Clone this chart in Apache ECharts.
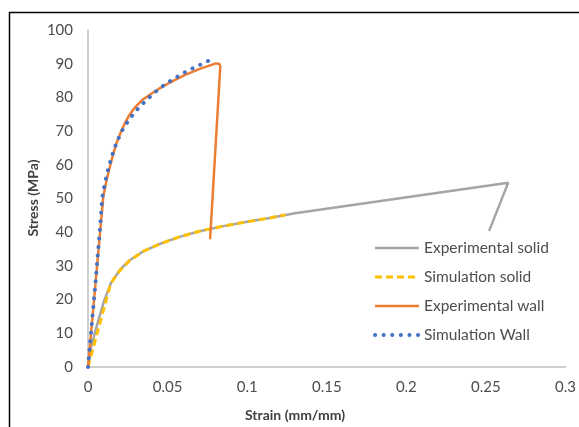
<!DOCTYPE html>
<html><head><meta charset="utf-8">
<script src="https://cdn.jsdelivr.net/npm/echarts@6/dist/echarts.min.js"></script>
<style>html,body{margin:0;padding:0;background:#fff}#c{width:579px;height:427px}</style>
</head><body><div id="c"></div>
<script>
var seriesNames = ['Experimental solid', 'Simulation solid', 'Experimental wall', 'Simulation Wall'];
var xTicks = [0, 0.05, 0.1, 0.15, 0.2, 0.25, 0.3];
var yTicks = [0, 10, 20, 30, 40, 50, 60, 70, 80, 90, 100];

var expSolidStrain = [0, 0.002, 0.006, 0.010, 0.0145, 0.020, 0.026, 0.035, 0.045, 0.0575, 0.070, 0.085, 0.100, 0.115, 0.130, 0.264, 0.252];
var expSolidStress = [0, 6, 13, 19.5, 25, 28.8, 31.6, 34.4, 36.5, 38.6, 40.3, 41.8, 43.1, 44.3, 45.6, 54.7, 40.4];

var simSolidStrain = [0, 0.0137, 0.016, 0.020, 0.026, 0.035, 0.045, 0.0575, 0.070, 0.085, 0.100, 0.115, 0.124];
var simSolidStress = [0, 23.8, 26, 28.6, 31.5, 34.4, 36.5, 38.6, 40.3, 41.8, 43.1, 44.3, 45.2];

var expWallStrain = [0, 0.0096, 0.0116, 0.01375, 0.0158, 0.0179, 0.0205, 0.0231, 0.026, 0.0294, 0.034, 0.0398, 0.045, 0.0502, 0.0606, 0.0711, 0.0804, 0.0826, 0.0831, 0.0767];
var expWallStress = [0, 50.5, 55.3, 59.4, 63.2, 66.4, 69.6, 72.3, 74.8, 77.0, 79.2, 81.1, 82.7, 84.1, 86.6, 88.6, 90.1, 89.9, 89.1, 37.9];

var simWallStrain = [0, 0.0045, 0.0075, 0.0089, 0.0107, 0.0127, 0.0152, 0.0179, 0.021, 0.0244, 0.0279, 0.032, 0.0363, 0.041, 0.0456, 0.0508, 0.056, 0.0614, 0.0669, 0.0724, 0.0779];
var simWallStress = [0, 24, 41, 50.2, 54.8, 58.8, 62.8, 66.5, 69.8, 72.4, 74.7, 77, 79.0, 81.1, 82.9, 84.6, 86.1, 87.6, 88.9, 90.1, 91.4];

function pairs(xs, ys) { return xs.map(function (x, i) { return [x, ys[i]]; }); }

var FONT = 'Lato';
var chart = echarts.init(document.getElementById('c'));
chart.setOption({
  animation: false,
  backgroundColor: '#fff',
  grid: { left: 88, right: 11, top: 30, bottom: 60, containLabel: false },
  xAxis: {
    type: 'value', min: xTicks[0], max: xTicks[xTicks.length - 1], interval: 0.05,
    axisLine: { show: true, lineStyle: { color: '#BFBFBF', width: 1.5 } },
    axisTick: { show: false }, splitLine: { show: false },
    axisLabel: { color: '#4d4d4d', fontFamily: FONT, fontSize: 15, margin: 13,
      formatter: function (v) { return String(+v.toFixed(2)); } }
  },
  yAxis: {
    type: 'value', min: yTicks[0], max: yTicks[yTicks.length - 1], interval: 10,
    axisLine: { show: true, lineStyle: { color: '#BFBFBF', width: 1.5 } },
    axisTick: { show: false }, splitLine: { show: false },
    axisLabel: { color: '#4d4d4d', fontFamily: FONT, fontSize: 15, margin: 15 }
  },
  legend: {
    orient: 'vertical', left: 368, top: 235, itemWidth: 44, itemHeight: 14, itemGap: 13,
    itemStyle: { opacity: 0 },
    lineStyle: { width: 'inherit' },
    textStyle: { color: '#4d4d4d', fontFamily: FONT, fontSize: 15.5 },
    data: seriesNames
  },
  graphic: [
    { type: 'rect', shape: { x: 9.5, y: 12.5, width: 620, height: 500 }, style: { fill: 'none', stroke: '#000', lineWidth: 1.5 }, silent: true, z: -1 },
    { type: 'text', x: 295, y: 415, style: { text: 'Strain (mm/mm)', font: 'bold 14px Lato', fill: '#404040', textAlign: 'center', textVerticalAlign: 'middle' } },
    { type: 'text', x: 33, y: 198, rotation: Math.PI / 2, style: { text: 'Stress (MPa)', font: 'bold 14px Lato', fill: '#404040', textAlign: 'center', textVerticalAlign: 'middle' } }
  ],
  series: [
    { name: seriesNames[0], type: 'line', data: pairs(expSolidStrain, expSolidStress), showSymbol: false, symbol: 'none',
      lineStyle: { color: '#A5A5A5', width: 2.5 }, itemStyle: { color: '#A5A5A5' }, z: 2 },
    { name: seriesNames[1], type: 'line', data: pairs(simSolidStrain, simSolidStress), showSymbol: false, symbol: 'none',
      lineStyle: { color: '#FFC000', width: 3, type: [7, 4] }, itemStyle: { color: '#FFC000' }, z: 3 },
    { name: seriesNames[2], type: 'line', data: pairs(expWallStrain, expWallStress), showSymbol: false, symbol: 'none',
      lineStyle: { color: '#ED7D31', width: 2.5, join: 'round' }, itemStyle: { color: '#ED7D31' }, z: 4 },
    { name: seriesNames[3], type: 'line', data: pairs(simWallStrain, simWallStress), showSymbol: false, symbol: 'none',
      lineStyle: { color: '#4472C4', width: 4, type: [0.1, 8.5], cap: 'round' }, itemStyle: { color: '#4472C4' }, z: 5 }
  ]
});
</script></body></html>
